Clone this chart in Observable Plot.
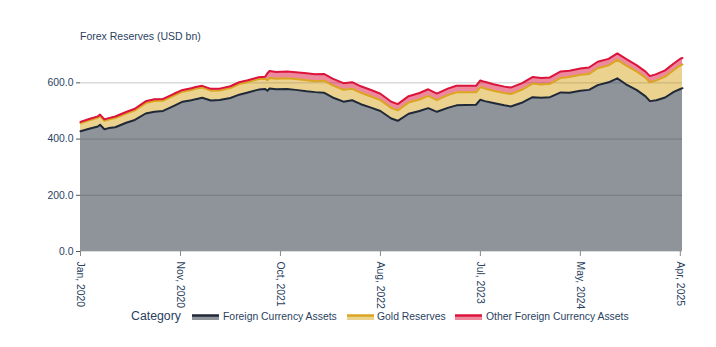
<!DOCTYPE html>
<html>
<head>
<meta charset="utf-8">
<script src="https://cdn.jsdelivr.net/npm/d3@7"></script>
<script src="https://cdn.jsdelivr.net/npm/@observablehq/plot@0.6"></script>
<style>
  html, body { margin: 0; padding: 0; background: #fff; }
  body { width: 716px; height: 347px; position: relative; overflow: hidden; font-family: "Liberation Sans", Arial, sans-serif; color: #2a3f5f; }
  #title { position: absolute; left: 80px; top: 30px; font-size: 10.5px; line-height: 12px; color: #2a3f5f; }
  #chart { position: absolute; left: 0; top: 0; }
  #legend { position: absolute; left: 0; top: 0; width: 716px; height: 347px; pointer-events: none; }
  #legend .ttl { position: absolute; top: 309px; font-size: 12.3px; line-height: 14px; }
  #legend .txt { position: absolute; top: 311px; font-size: 10.4px; line-height: 12px; white-space: nowrap; }
  #legend svg { position: absolute; top: 313px; }
</style>
</head>
<body>
<div id="chart"></div>
<div id="title">Forex Reserves (USD bn)</div>
<div id="legend"></div>
<script>
// Weekly-report dates (subset) and values, USD bn
const dates = ["2020-01-03","2020-01-31","2020-02-28","2020-03-06","2020-03-20","2020-04-03","2020-04-24","2020-05-29","2020-06-26","2020-07-31","2020-08-28","2020-09-25","2020-10-30","2020-11-27","2020-12-25","2021-01-08","2021-01-29","2021-02-26","2021-03-26","2021-04-30","2021-05-28","2021-06-25","2021-07-30","2021-08-20","2021-08-27","2021-09-03","2021-09-24","2021-10-29","2021-11-26","2021-12-31","2022-01-28","2022-02-25","2022-03-25","2022-04-29","2022-05-27","2022-06-24","2022-07-29","2022-08-26","2022-09-30","2022-10-21","2022-11-25","2022-12-30","2023-01-27","2023-02-24","2023-03-31","2023-04-28","2023-05-26","2023-06-30","2023-07-14","2023-07-28","2023-08-25","2023-09-29","2023-10-20","2023-11-24","2023-12-29","2024-01-26","2024-02-23","2024-03-29","2024-04-26","2024-05-31","2024-06-28","2024-07-26","2024-08-30","2024-09-27","2024-10-25","2024-11-29","2024-12-27","2025-01-10","2025-01-31","2025-02-28","2025-03-28","2025-04-18","2025-04-25"];
const foreignCurrencyAssets = [428,437,445,451,435,439,442,458,468,491,497,500,518,533,538,542,547,537,539,546,558,566,576,578,572,580,577,578,575,570,567,565,548,533,538,524,511,500,473,465,490,500,510,497,511,520,521,522,540,535,528,520,516,529,549,547,549,566,565,572,575,592,602,616,595,574,552,535,538,548,568,578,581];
const goldReserves = [28.1,29.4,30.5,30.9,29.9,30.4,32.9,32.7,34.0,37.1,38.7,36.6,36.9,35.6,36.7,36.9,36.0,35.2,34.0,35.3,37.6,36.5,37.6,36.8,37.4,37.4,37.2,38.0,38.3,39.6,39.0,42.5,42.9,42.3,41.0,40.6,39.6,38.6,37.6,37.2,39.9,40.7,43.8,41.8,45.2,46.2,45.2,44.3,45.2,45.2,44.0,43.7,44.4,46.3,48.3,47.5,47.4,51.5,55.5,56.5,56.7,60.1,60.1,65.8,67.4,65.8,66.0,67.1,70.9,74.3,77.8,84.6,84.4];
const otherAssets = [5.1,5.1,5.2,5.2,5.2,5.2,5.3,5.6,6.0,6.1,6.1,6.1,6.2,6.2,6.3,6.3,6.4,6.4,6.4,6.5,6.5,6.5,6.6,6.6,24.6,24.6,24.5,24.5,24.4,24.2,24.2,24.1,23.9,23.5,23.4,23.2,22.9,22.6,22.2,22.2,22.7,23.2,23.3,23.0,23.3,23.3,23.2,23.1,23.4,23.4,23.3,22.9,22.7,23.0,23.3,23.0,23.0,22.9,22.7,22.7,22.8,22.9,23.3,23.0,22.6,22.4,21.9,21.9,22.0,22.0,22.8,23.1,23.1];
const seriesNames = ["Foreign Currency Assets","Gold Reserves","Other Foreign Currency Assets"];
const lineColors = ["#1f2937","#daa520","#dc143c"];
const fillColors = ["rgba(31,41,55,0.5)","rgba(218,165,32,0.5)","rgba(220,20,60,0.5)"];
const yTicks = [0,200,400,600];
const xTickDates = ["2020-01-03","2020-11-20","2021-10-08","2022-08-26","2023-07-14","2024-05-31","2025-04-18"];
const xTickLabels = ["Jan, 2020","Nov, 2020","Oct, 2021","Aug, 2022","Jul, 2023","May, 2024","Apr, 2025"];

const parse = d3.utcParse("%Y-%m-%d");
const rows = dates.map((d, i) => {
  const a = foreignCurrencyAssets[i], g = goldReserves[i], o = otherAssets[i];
  return {date: parse(d), y0: 0, y1: a, y2: a + g, y3: a + g + o};
});
const tickDates = xTickDates.map(parse);
const labelOf = new Map(tickDates.map((d, i) => [+d, xTickLabels[i]]));

const plot = Plot.plot({
  width: 716,
  height: 347,
  marginLeft: 80,
  marginRight: 34,
  marginTop: 43,
  marginBottom: 96,
  style: {fontFamily: '"Liberation Sans", Arial, sans-serif', fontSize: "10.4px", color: "#2a3f5f", background: "transparent"},
  x: {type: "utc", domain: [parse(dates[0]), parse(dates[dates.length - 1])]},
  y: {domain: [0, 740]},
  marks: [
    Plot.ruleY(yTicks.slice(1), {stroke: "#e2e2e2", strokeWidth: 1}),
    Plot.areaY(rows, {x: "date", y1: "y0", y2: "y1", fill: fillColors[0]}),
    Plot.areaY(rows, {x: "date", y1: "y1", y2: "y2", fill: fillColors[1]}),
    Plot.areaY(rows, {x: "date", y1: "y2", y2: "y3", fill: fillColors[2]}),
    Plot.ruleY(yTicks.slice(1), {stroke: "#000", strokeOpacity: 0.1, strokeWidth: 1}),
    Plot.lineY(rows, {x: "date", y: "y1", stroke: lineColors[0], strokeWidth: 2}),
    Plot.lineY(rows, {x: "date", y: "y2", stroke: lineColors[1], strokeWidth: 2}),
    Plot.lineY(rows, {x: "date", y: "y3", stroke: lineColors[2], strokeWidth: 2}),
    Plot.ruleY([0], {stroke: "#dcdcdc", strokeWidth: 1}),
    Plot.axisY({ticks: yTicks, tickFormat: d3.format(".1f"), tickSize: 4, tickPadding: 3, stroke: "#555", color: "#2a3f5f", fontSize: 10.4}),
    Plot.axisX({ticks: tickDates, tickFormat: d => labelOf.get(+d), tickSize: 5, tickPadding: 5, tickRotate: 90, stroke: "#888", color: "#2a3f5f", fontSize: 10.4})
  ]
});
document.getElementById("chart").appendChild(plot);

// Legend (HTML, below the plot)
const legend = document.getElementById("legend");
const ttl = document.createElement("span");
ttl.className = "ttl";
ttl.style.left = "131px";
ttl.textContent = "Category";
legend.appendChild(ttl);
const swatchX = [192, 347, 455];
const textX = [223, 377, 486];
const ns = "http://www.w3.org/2000/svg";
seriesNames.forEach((name, i) => {
  const sw = document.createElementNS(ns, "svg");
  sw.setAttribute("width", "27");
  sw.setAttribute("height", "8");
  sw.style.left = swatchX[i] + "px";
  const r = document.createElementNS(ns, "rect");
  r.setAttribute("x", 0); r.setAttribute("y", 2); r.setAttribute("width", 27); r.setAttribute("height", 5);
  r.setAttribute("fill", fillColors[i]);
  sw.appendChild(r);
  const l = document.createElementNS(ns, "line");
  l.setAttribute("x1", 0); l.setAttribute("x2", 27); l.setAttribute("y1", 2.5); l.setAttribute("y2", 2.5);
  l.setAttribute("stroke", lineColors[i]); l.setAttribute("stroke-width", 2.5);
  sw.appendChild(l);
  legend.appendChild(sw);
  const t = document.createElement("span");
  t.className = "txt";
  t.style.left = textX[i] + "px";
  t.textContent = name;
  legend.appendChild(t);
});
</script>
</body>
</html>
